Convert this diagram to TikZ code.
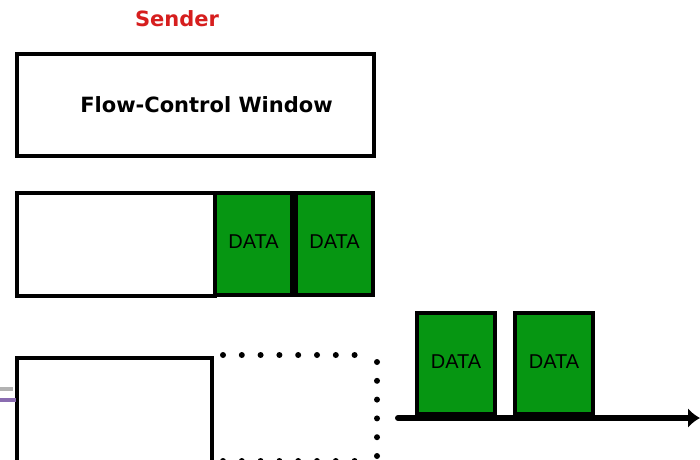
\documentclass[tikz,border=0pt]{standalone}
\usepackage{fontspec}
\setmainfont{Liberation Sans}
\newfontfamily\headfont{DejaVu Sans}
\usetikzlibrary{positioning, arrows.meta}

\definecolor{pktgreen}{RGB}{6,150,18}
\definecolor{sendred}{RGB}{214,30,30}
\definecolor{linkpurple}{RGB}{138,108,176}

\tikzset{
  box/.style={draw, line width=3.4pt, fill=white, anchor=north west, inner sep=0pt, outer sep=0pt},
  pkt/.style={box, fill=pktgreen, minimum width=77pt, minimum height=102pt, font=\fontsize{20}{20}\selectfont},
  dotline/.style={line width=6pt, line cap=round, dash pattern=on 0pt off 18.8pt}
}
\newcommand{\datatext}{\raisebox{4pt}{DATA}}

\begin{document}
\begin{tikzpicture}[x=1pt, y=-1pt]
      \useasboundingbox (0,0) rectangle (700,459);
      % Sender side:
      \node[text=sendred, font=\headfont\bfseries\fontsize{21}{21}\selectfont] (sender) at (177,19) {Sender};
      \node[box, minimum width=357pt, minimum height=102pt, font=\headfont\bfseries\fontsize{21}{21}\selectfont] (window) at (17,54) {\hspace*{22pt}Flow-Control Window};
      \node[box, minimum width=198pt, minimum height=103pt] (buf) at (17,193) {};
      \node[pkt, right=0pt of buf.north east, anchor=north west] (d1) {\datatext};
      \node[pkt, right=4pt of d1.north east, anchor=north west] (d2) {\datatext};
      % Sent:
      \node[box, minimum width=195pt, minimum height=110pt] (sent) at (17,358) {};
      \coordinate (slot) at (223,355);
      \draw[dotline] (slot) -- (356,355);
      \draw[dotline] (377,362) -- (377,470);
      \draw[dotline] (223,461) -- (360,461);
      \draw[line width=4pt, gray!60] (0,389) -- (13,389);
      \draw[line width=4pt, linkpurple] (0,400) -- (16,400);
      % Link:
      \coordinate (src) at (398,418);
      \coordinate (dst) at (700,418);
      \draw[line width=6pt, line cap=round, -{Latex[length=12pt, width=20pt]}] (src) -- (dst);
      \node[pkt, minimum width=78pt, minimum height=101pt] (p1) at (417,313) {\datatext};
      \node[pkt, minimum width=78pt, minimum height=101pt] (p2) at (515,313) {\datatext};
    \end{tikzpicture}
\end{document}
